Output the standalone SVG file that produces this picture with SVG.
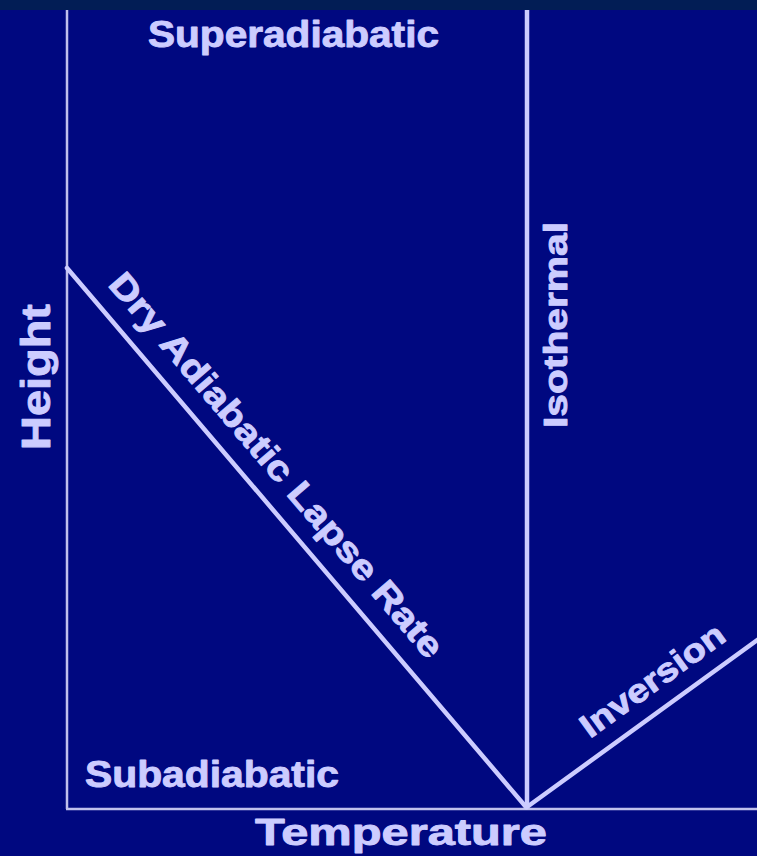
<svg xmlns="http://www.w3.org/2000/svg" width="757" height="856" viewBox="0 0 757 856">
<style>
.lbl{font-family:"Liberation Sans",Arial,sans-serif;font-weight:bold;fill:#ccccff;stroke:#ccccff;stroke-width:0.9;stroke-linejoin:round;}
.thin{stroke:#c0c0ec;stroke-width:2.5;fill:none;}
.thick{stroke:#ccccff;stroke-width:4.5;fill:none;stroke-linecap:round;}
</style>
<rect x="0" y="0" width="757" height="856" fill="#000880"/>
<rect x="0" y="0" width="757" height="10" fill="#021d55"/>
<g id="connectors">
<line class="thin" x1="67" y1="10" x2="67" y2="809"/>
<line class="thin" x1="66" y1="809" x2="757" y2="809"/>
<line class="thick" x1="527" y1="10" x2="527" y2="808" style="stroke-linecap:butt"/>
<line class="thick" x1="67" y1="268" x2="526" y2="807"/>
<line class="thick" x1="527" y1="807" x2="760" y2="638"/>
</g>
<g id="superadiabatic"><text class="lbl" x="148" y="47" font-size="36" textLength="291" lengthAdjust="spacingAndGlyphs">Superadiabatic</text></g>
<g id="subadiabatic"><text class="lbl" x="85" y="787" font-size="36" textLength="254" lengthAdjust="spacingAndGlyphs">Subadiabatic</text></g>
<g id="temperature"><text class="lbl" x="255" y="845" font-size="37" textLength="292" lengthAdjust="spacingAndGlyphs">Temperature</text></g>
<g id="height"><text class="lbl" transform="translate(50,450) rotate(-90)" font-size="40" textLength="146" lengthAdjust="spacingAndGlyphs">Height</text></g>
<g id="isothermal"><text class="lbl" transform="translate(567,428) rotate(-90)" font-size="34" textLength="206" lengthAdjust="spacingAndGlyphs">Isothermal</text></g>
<g id="dalr"><text class="lbl" transform="translate(107,285) rotate(49.5)" font-size="35" textLength="494" lengthAdjust="spacingAndGlyphs">Dry Adiabatic Lapse Rate</text></g>
<g id="inversion"><text class="lbl" transform="translate(590,739) rotate(-35.8)" font-size="33" textLength="170" lengthAdjust="spacingAndGlyphs">Inversion</text></g>
</svg>
